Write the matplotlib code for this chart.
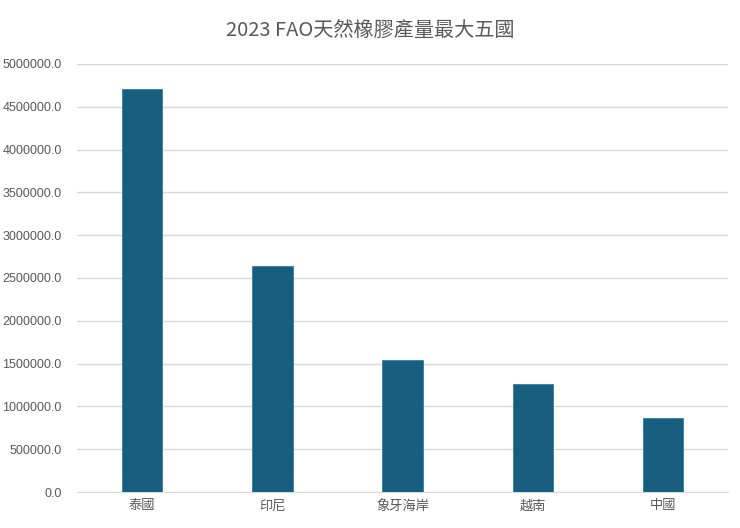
import matplotlib
matplotlib.use("Agg")
import matplotlib.pyplot as plt
from matplotlib.ticker import FuncFormatter, MultipleLocator

plt.rcParams['font.family'] = ['Liberation Sans', 'Noto Sans CJK TC', 'DejaVu Sans']

countries = ["泰國", "印尼", "象牙海岸", "越南", "中國"]
production = [4708000, 2640000, 1542000, 1262000, 864000]
title = "2023 FAO天然橡膠產量最大五國"

fig = plt.figure(figsize=(7.4, 5.28), dpi=100)
ax = fig.add_axes([0.104, 0.068, 0.88, 0.811])

x = range(len(countries))
ax.bar(x, production, width=0.31, color="#185F7F", edgecolor="#2C7FA6",
       linewidth=0.6, zorder=3)

ax.set_xlim(-0.5, len(countries) - 0.5)
ax.set_ylim(0, 5000000)
ax.yaxis.set_major_locator(MultipleLocator(500000))
ax.yaxis.set_major_formatter(FuncFormatter(lambda v, p: f"{v:.1f}"))
ax.set_xticks(list(x))
ax.set_xticklabels(countries)

ax.grid(axis="y", color="#D9D9D9", linewidth=1, zorder=0)
for s in ["top", "right", "left"]:
    ax.spines[s].set_visible(False)
ax.spines["bottom"].set_color("#D9D9D9")
ax.tick_params(axis="both", length=0, colors="#595959")
ax.tick_params(axis="y", pad=11, labelsize=9)
ax.tick_params(axis="x", pad=6, labelsize=9.5)

fig.text(0.5, 0.943, title, ha="center", va="center", fontsize=14.5,
         color="#595959", family=['Noto Sans CJK TC', 'DejaVu Sans'])

fig.savefig("out.png", dpi=100, facecolor="white")
